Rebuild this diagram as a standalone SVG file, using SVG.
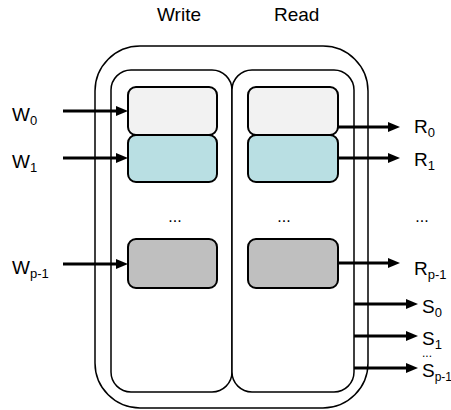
<svg xmlns="http://www.w3.org/2000/svg" width="451" height="410" viewBox="0 0 451 410">
<style>
.frame{fill:#ffffff;stroke:#000;stroke-width:1.5}
.box{stroke:#000;stroke-width:2}
.c0{fill:#f2f2f2}
.c1{fill:#b9dfe3}
.c2{fill:#bfbfbf}
.arr{stroke:#000;stroke-width:3;fill:none;marker-end:url(#ah)}
text{font-family:"Liberation Sans",Arial,sans-serif;font-size:19px;fill:#000}
.sub{font-size:13px}
</style>
<defs>
<marker id="ah" viewBox="0 0 12 10" refX="4" refY="5" markerWidth="12" markerHeight="10" markerUnits="userSpaceOnUse" orient="auto">
<path d="M0,0 L12,5 L0,10 z" fill="#000"/>
</marker>
</defs>
<g id="container">
<rect class="frame" x="95" y="46" width="273" height="362" rx="45" ry="45"/>
</g>
<g id="write-column">
<rect class="frame" x="111" y="70" width="121" height="322" rx="20" ry="20"/>
</g>
<g id="read-column">
<rect class="frame" x="232" y="70" width="122" height="322" rx="20" ry="20"/>
</g>
<g id="w0-box"><rect class="box c0" x="128" y="87" width="89" height="48" rx="8"/></g>
<g id="w1-box"><rect class="box c1" x="128" y="135" width="89" height="47" rx="8"/></g>
<g id="wp-box"><rect class="box c2" x="128" y="239" width="89" height="49" rx="8"/></g>
<g id="r0-box"><rect class="box c0" x="248" y="87" width="90" height="48" rx="8"/></g>
<g id="r1-box"><rect class="box c1" x="248" y="135" width="90" height="47" rx="8"/></g>
<g id="rp-box"><rect class="box c2" x="248" y="239" width="90" height="49" rx="8"/></g>
<g id="connectors">
<line class="arr" x1="63" y1="111" x2="120" y2="111"/>
<line class="arr" x1="63" y1="158" x2="120" y2="158"/>
<line class="arr" x1="63" y1="264" x2="120" y2="264"/>
<line class="arr" x1="338" y1="127" x2="392" y2="127"/>
<line class="arr" x1="338" y1="158" x2="392" y2="158"/>
<line class="arr" x1="338" y1="263" x2="392" y2="263"/>
<line class="arr" x1="354" y1="304" x2="410" y2="304"/>
<line class="arr" x1="354" y1="336" x2="410" y2="336"/>
<line class="arr" x1="354" y1="368" x2="410" y2="368"/>
</g>
<g id="labels">
<text x="157" y="21">Write</text>
<text x="274" y="21">Read</text>
<text x="12" y="121">W<tspan class="sub" dy="4">0</tspan></text>
<text x="12" y="168">W<tspan class="sub" dy="4">1</tspan></text>
<text x="12" y="274">W<tspan class="sub" dy="4">p-1</tspan></text>
<text x="414" y="133">R<tspan class="sub" dy="4">0</tspan></text>
<text x="414" y="166">R<tspan class="sub" dy="4">1</tspan></text>
<text x="414" y="275">R<tspan class="sub" dy="4">p-1</tspan></text>
<text x="422" y="313">S<tspan class="sub" dy="4">0</tspan></text>
<text x="422" y="345">S<tspan class="sub" dy="4">1</tspan></text>
<text x="422" y="377">S<tspan class="sub" dy="4" style="font-size:12px">p-1</tspan></text>
<text x="175" y="222" text-anchor="middle" style="font-size:16px">...</text>
<text x="284" y="222" text-anchor="middle" style="font-size:16px">...</text>
<text x="422" y="222" text-anchor="middle" style="font-size:16px">...</text>
<text x="427" y="357" text-anchor="middle" style="font-size:12px">...</text>
</g>
</svg>
